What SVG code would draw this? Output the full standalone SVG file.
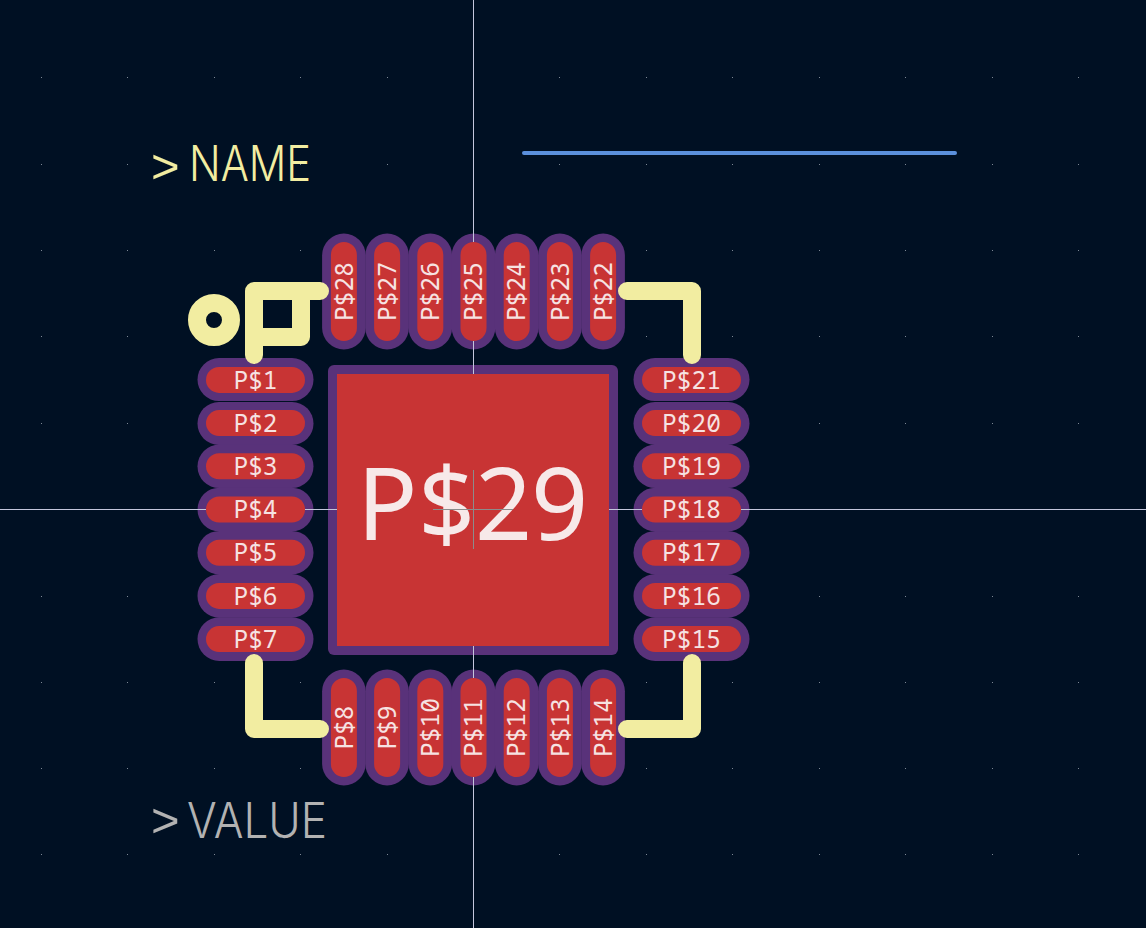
<svg xmlns="http://www.w3.org/2000/svg" width="1146" height="928" viewBox="0 0 1146 928">
<style>
.m{fill:#59327a}
.r{fill:#c83434}
.t{font-family:"Noto Sans Mono","Noto Sans",sans-serif;font-size:24.5px;fill:#f6e2e2;text-anchor:middle}
.c{stroke:#c4c6dc;stroke-width:1;fill:none}
.s{stroke:#f2eda1;stroke-width:18;fill:none;stroke-linecap:round;stroke-linejoin:round}
.f{font-family:"Liberation Sans",sans-serif;font-size:49px}
.n{font-family:"Inter",sans-serif;font-weight:300}
</style>
<defs>
<path id="gridrow" d="M41 0h1v1h-1zM127 0h1v1h-1zM214 0h1v1h-1zM300 0h1v1h-1zM387 0h1v1h-1zM473 0h1v1h-1zM559 0h1v1h-1zM646 0h1v1h-1zM732 0h1v1h-1zM819 0h1v1h-1zM905 0h1v1h-1zM992 0h1v1h-1zM1078 0h1v1h-1z" fill="#7d8794"/>
</defs>
<rect id="background" width="1146" height="928" fill="#001023"/>
<g id="grid">
<use href="#gridrow" y="77"/><use href="#gridrow" y="164"/><use href="#gridrow" y="250"/><use href="#gridrow" y="336"/><use href="#gridrow" y="423"/><use href="#gridrow" y="509"/><use href="#gridrow" y="596"/><use href="#gridrow" y="682"/><use href="#gridrow" y="768"/><use href="#gridrow" y="854"/>
</g>
<g id="pad29"><rect class="m" x="328" y="365" width="290" height="290" rx="6"/><rect class="r" x="337" y="374" width="272" height="272"/></g>
<g id="pad1"><rect class="m" x="197.5" y="358.1" width="116" height="43" rx="21.5"/><rect class="r" x="206" y="366.9" width="99" height="26" rx="13"/><text class="t" x="255.5" y="388.6">P$1</text></g>
<g id="pad2"><rect class="m" x="197.5" y="402" width="116" height="42.9" rx="21.4"/><rect class="r" x="206" y="410.1" width="99" height="26" rx="13"/><text class="t" x="255.5" y="431.8">P$2</text></g>
<g id="pad3"><rect class="m" x="197.5" y="444.5" width="116" height="43.6" rx="21.8"/><rect class="r" x="206" y="453.3" width="99" height="26" rx="13"/><text class="t" x="255.5" y="475">P$3</text></g>
<g id="pad4"><rect class="m" x="197.5" y="487.7" width="116" height="43.6" rx="21.8"/><rect class="r" x="206" y="496.5" width="99" height="26" rx="13"/><text class="t" x="255.5" y="518.2">P$4</text></g>
<g id="pad5"><rect class="m" x="197.5" y="530.9" width="116" height="43.6" rx="21.8"/><rect class="r" x="206" y="539.7" width="99" height="26" rx="13"/><text class="t" x="255.5" y="561.4">P$5</text></g>
<g id="pad6"><rect class="m" x="197.5" y="574.1" width="116" height="43.6" rx="21.8"/><rect class="r" x="206" y="582.9" width="99" height="26" rx="13"/><text class="t" x="255.5" y="604.6">P$6</text></g>
<g id="pad7"><rect class="m" x="197.5" y="617.3" width="116" height="43.6" rx="21.8"/><rect class="r" x="206" y="626.1" width="99" height="26" rx="13"/><text class="t" x="255.5" y="647.8">P$7</text></g>
<g id="pad15"><rect class="m" x="633.5" y="617.3" width="116" height="43.6" rx="21.8"/><rect class="r" x="642" y="626.1" width="99" height="26" rx="13"/><text class="t" x="691.5" y="647.8">P$15</text></g>
<g id="pad16"><rect class="m" x="633.5" y="574.1" width="116" height="43.6" rx="21.8"/><rect class="r" x="642" y="582.9" width="99" height="26" rx="13"/><text class="t" x="691.5" y="604.6">P$16</text></g>
<g id="pad17"><rect class="m" x="633.5" y="530.9" width="116" height="43.6" rx="21.8"/><rect class="r" x="642" y="539.7" width="99" height="26" rx="13"/><text class="t" x="691.5" y="561.4">P$17</text></g>
<g id="pad18"><rect class="m" x="633.5" y="487.7" width="116" height="43.6" rx="21.8"/><rect class="r" x="642" y="496.5" width="99" height="26" rx="13"/><text class="t" x="691.5" y="518.2">P$18</text></g>
<g id="pad19"><rect class="m" x="633.5" y="444.5" width="116" height="43.6" rx="21.8"/><rect class="r" x="642" y="453.3" width="99" height="26" rx="13"/><text class="t" x="691.5" y="475">P$19</text></g>
<g id="pad20"><rect class="m" x="633.5" y="402" width="116" height="42.9" rx="21.4"/><rect class="r" x="642" y="410.1" width="99" height="26" rx="13"/><text class="t" x="691.5" y="431.8">P$20</text></g>
<g id="pad21"><rect class="m" x="633.5" y="358.1" width="116" height="43" rx="21.5"/><rect class="r" x="642" y="366.9" width="99" height="26" rx="13"/><text class="t" x="691.5" y="388.6">P$21</text></g>
<g id="pad28"><rect class="m" x="322.1" y="233.5" width="43.6" height="116" rx="21.8"/><rect class="r" x="330.9" y="242" width="26" height="99" rx="13"/><text class="t" transform="translate(352.6 291.5) rotate(-90)">P$28</text></g>
<g id="pad27"><rect class="m" x="365.3" y="233.5" width="43.6" height="116" rx="21.8"/><rect class="r" x="374.1" y="242" width="26" height="99" rx="13"/><text class="t" transform="translate(395.8 291.5) rotate(-90)">P$27</text></g>
<g id="pad26"><rect class="m" x="408.5" y="233.5" width="43.6" height="116" rx="21.8"/><rect class="r" x="417.3" y="242" width="26" height="99" rx="13"/><text class="t" transform="translate(439 291.5) rotate(-90)">P$26</text></g>
<g id="pad25"><rect class="m" x="451.7" y="233.5" width="43.6" height="116" rx="21.8"/><rect class="r" x="460.5" y="242" width="26" height="99" rx="13"/><text class="t" transform="translate(482.2 291.5) rotate(-90)">P$25</text></g>
<g id="pad24"><rect class="m" x="494.9" y="233.5" width="43.6" height="116" rx="21.8"/><rect class="r" x="503.7" y="242" width="26" height="99" rx="13"/><text class="t" transform="translate(525.4 291.5) rotate(-90)">P$24</text></g>
<g id="pad23"><rect class="m" x="538.1" y="233.5" width="43.6" height="116" rx="21.8"/><rect class="r" x="546.9" y="242" width="26" height="99" rx="13"/><text class="t" transform="translate(568.6 291.5) rotate(-90)">P$23</text></g>
<g id="pad22"><rect class="m" x="581.3" y="233.5" width="43.6" height="116" rx="21.8"/><rect class="r" x="590.1" y="242" width="26" height="99" rx="13"/><text class="t" transform="translate(611.8 291.5) rotate(-90)">P$22</text></g>
<g id="pad8"><rect class="m" x="322.1" y="669.5" width="43.6" height="116" rx="21.8"/><rect class="r" x="330.9" y="678" width="26" height="99" rx="13"/><text class="t" transform="translate(352.6 727.5) rotate(-90)">P$8</text></g>
<g id="pad9"><rect class="m" x="365.3" y="669.5" width="43.6" height="116" rx="21.8"/><rect class="r" x="374.1" y="678" width="26" height="99" rx="13"/><text class="t" transform="translate(395.8 727.5) rotate(-90)">P$9</text></g>
<g id="pad10"><rect class="m" x="408.5" y="669.5" width="43.6" height="116" rx="21.8"/><rect class="r" x="417.3" y="678" width="26" height="99" rx="13"/><text class="t" transform="translate(439 727.5) rotate(-90)">P$10</text></g>
<g id="pad11"><rect class="m" x="451.7" y="669.5" width="43.6" height="116" rx="21.8"/><rect class="r" x="460.5" y="678" width="26" height="99" rx="13"/><text class="t" transform="translate(482.2 727.5) rotate(-90)">P$11</text></g>
<g id="pad12"><rect class="m" x="494.9" y="669.5" width="43.6" height="116" rx="21.8"/><rect class="r" x="503.7" y="678" width="26" height="99" rx="13"/><text class="t" transform="translate(525.4 727.5) rotate(-90)">P$12</text></g>
<g id="pad13"><rect class="m" x="538.1" y="669.5" width="43.6" height="116" rx="21.8"/><rect class="r" x="546.9" y="678" width="26" height="99" rx="13"/><text class="t" transform="translate(568.6 727.5) rotate(-90)">P$13</text></g>
<g id="pad14"><rect class="m" x="581.3" y="669.5" width="43.6" height="116" rx="21.8"/><rect class="r" x="590.1" y="678" width="26" height="99" rx="13"/><text class="t" transform="translate(611.8 727.5) rotate(-90)">P$14</text></g>
<g id="crosshair" shape-rendering="crispEdges">
<path class="c" d="M473.5 0V242M473.5 341V374M473.5 646V678M473.5 777V928M0 509.5H206M305 509.5H337M609 509.5H642M741 509.5H1146"/>
</g>
<g id="connectors">
<path id="silk-top-left" class="s" d="M320 291H254V355M254 337H301V291"/>
<path id="silk-top-right" class="s" d="M627 291H692V355"/>
<path id="silk-bottom-left" class="s" d="M254 663V729H320"/>
<path id="silk-bottom-right" class="s" d="M692 663V729H627"/>
<circle id="pin1-mark" class="s" cx="214" cy="320" r="17"/>
<path id="blue-line" d="M524 153H955" stroke="#5b90dc" stroke-width="4" stroke-linecap="round" fill="none"/>
</g>
<g id="pad29-label"><text x="357 418 475 531" y="540" font-family="'Noto Sans',sans-serif" font-size="100" fill="#f7e9e9">P$29</text>
<path d="M433 509.5H513M473.5 470V549" stroke="#8c8c8c" stroke-width="1" fill="none" shape-rendering="crispEdges"/></g>
<g id="name-label"><text class="f" fill="#f2eda1" x="151" y="181" dy="2">&gt;<tspan class="n" x="189" dy="-2" textLength="122" lengthAdjust="spacingAndGlyphs">NAME</tspan></text></g>
<g id="value-label"><text class="f" fill="#b2b2b2" x="151" y="838" dy="-1">&gt;<tspan class="n" x="187" dy="1" textLength="140" lengthAdjust="spacingAndGlyphs">VALUE</tspan></text></g>
</svg>
